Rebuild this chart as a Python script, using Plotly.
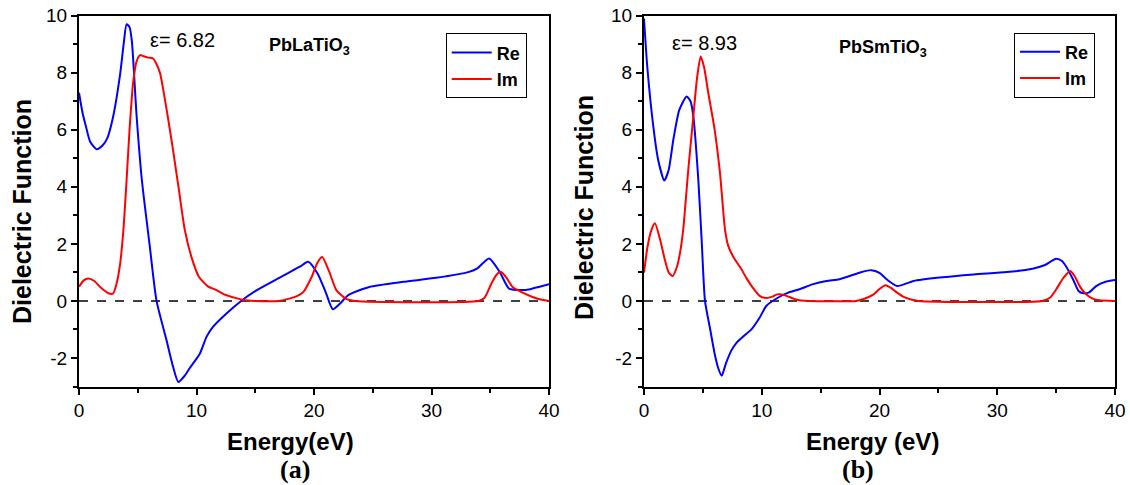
import plotly.graph_objects as go

# ---------------- data ----------------
# Panel (a): PbLaTiO3
a_re_x = [0, 0.3, 0.6, 0.95, 1.5, 2.0, 2.4, 2.9, 3.5, 3.8, 4.05, 4.3, 4.5, 4.9, 5.35, 6.0, 6.6,
          7.45, 8.0, 8.45, 9.0, 9.43, 10.28, 10.85, 11.4, 12.55, 13.8, 15.1, 17.0, 18.8, 19.5,
          20.3, 21.0, 21.6, 22.2, 22.9, 24.7, 27.6, 30.4, 33.2, 33.9, 34.9, 35.8, 36.6, 37.5,
          38.3, 39.2, 40]
a_re_y = [7.3, 6.6, 6.1, 5.58, 5.32, 5.45, 5.7, 6.45, 7.95, 9.0, 9.7, 9.6, 9.1, 6.5, 4.24, 2.0, 0,
          -1.38, -2.3, -2.84, -2.62, -2.35, -1.85, -1.26, -0.91, -0.44, 0, 0.37, 0.8, 1.2, 1.37,
          0.96, 0.3, -0.29, -0.1, 0.2, 0.49, 0.67, 0.81, 1.02, 1.14, 1.49, 1.02, 0.43, 0.38,
          0.4, 0.5, 0.59]

a_im_x = [0, 0.4, 0.8, 1.3, 1.9, 2.5, 2.9, 3.2, 3.5, 3.8, 4.05, 4.3, 4.6, 4.9, 5.2, 5.5, 5.9,
          6.3, 6.6, 6.9, 7.5, 8.0, 8.5, 9.0, 9.6, 10.2, 11.0, 11.7, 12.4, 13.1, 14.0, 15.0, 17.0,
          17.9, 18.6, 19.1, 19.8, 20.3, 20.7, 21.3, 21.9, 22.7, 23.5, 34.0, 34.5, 35.1, 35.5,
          35.9, 36.4, 36.9, 37.8, 38.6, 39.3, 40]
a_im_y = [0.5, 0.72, 0.79, 0.7, 0.45, 0.27, 0.26, 0.61, 1.3, 2.6, 4.24, 6.0, 7.63, 8.4, 8.62,
          8.58, 8.53, 8.5, 8.3, 7.98, 6.6, 5.3, 3.9, 2.5, 1.5, 0.85, 0.5, 0.38, 0.22, 0.13, 0.03,
          0, 0, 0.08, 0.18, 0.32, 0.84, 1.35, 1.54, 1.02, 0.38, 0.08, 0, 0, 0.1, 0.61, 0.9,
          1.02, 0.8, 0.49, 0.28, 0.14, 0.05, 0]

# Panel (b): PbSmTiO3
b_re_x = [0, 0.28, 0.79, 1.2, 1.72, 2.1, 2.49, 3.0, 3.62, 3.95, 4.19, 4.61, 4.9, 5.18, 5.6,
          6.0, 6.3, 6.6, 6.95, 7.4, 7.87, 8.5, 9.14, 9.8, 10.4, 11.4, 12.3, 13.2, 14.3, 15.5,
          16.6, 18.3, 19.3, 20.0, 20.6, 21.5, 22.9, 25.1, 28.0, 30.8, 33.0, 34.0, 35.0, 35.5,
          35.9, 36.5, 36.9, 37.3, 37.8, 38.4, 39.2, 40]
b_re_y = [9.9, 8.2, 6.12, 4.95, 4.22, 4.6, 5.65, 6.7, 7.17, 7.0, 6.47, 4.26, 2.1, 0, -0.95,
          -1.85, -2.35, -2.62, -2.2, -1.75, -1.46, -1.22, -0.99, -0.6, -0.17, 0.12, 0.3, 0.41,
          0.58, 0.7, 0.76, 0.99, 1.08, 0.98, 0.76, 0.52, 0.7, 0.82, 0.93, 1.01, 1.13, 1.25,
          1.48, 1.4, 1.17, 0.7, 0.35, 0.27, 0.3, 0.52, 0.67, 0.73]

b_im_x = [0, 0.3, 0.6, 0.93, 1.36, 1.8, 2.1, 2.43, 2.8, 3.06, 3.33, 3.76, 4.19, 4.5, 4.81, 5.1,
          5.46, 6.0, 6.45, 6.88, 7.16, 7.58, 8.29, 8.7, 9.14, 9.85, 10.4, 10.9, 11.3, 11.7,
          12.2, 12.7, 13.2, 14.0, 18.0, 18.6, 19.5, 20.0, 20.5, 21.0, 21.5, 22.0, 22.6, 23.3,
          33.8, 34.5, 35.0, 35.6, 36.2, 36.6, 37.0, 37.5, 38.1, 38.7, 40]
b_im_y = [0.99, 1.9, 2.45, 2.72, 2.16, 1.4, 1.0, 0.87, 1.2, 1.69, 2.5, 4.6, 6.47, 7.8, 8.57,
          8.2, 7.29, 6.0, 4.5, 2.5, 1.92, 1.55, 1.1, 0.8, 0.52, 0.17, 0.1, 0.15, 0.23, 0.23,
          0.16, 0.08, 0.02, 0, 0, 0.06, 0.23, 0.42, 0.55, 0.45, 0.29, 0.15, 0.06, 0, 0, 0.12,
          0.4, 0.8, 1.05, 0.85, 0.52, 0.25, 0.08, 0.02, 0]

series_names = ["Re", "Im"]
eps_labels = ["\u03b5= 6.82", "\u03b5= 8.93"]
compounds = ["PbLaTiO<sub>3</sub>", "PbSmTiO<sub>3</sub>"]
x_titles = ["Energy(eV)", "Energy (eV)"]
captions = ["(a)", "(b)"]
y_title = "Dielectric Function"
x_tickvals = [0, 10, 20, 30, 40]
y_tickvals = [-2, 0, 2, 4, 6, 8, 10]
y_ticktext = ["-2", "0", "2", "4", "6", "8", "10"]

# ---------------- figure ----------------
W, H = 1130, 485
SANS = "Liberation Sans, Arial, sans-serif"
SERIF = "Liberation Serif, Times New Roman, serif"
BLUE, RED = "#0000FF", "#FF0000"

def px(x):
    return x / W

def py(y):
    return 1 - y / H

fig = go.Figure()
line_kw = dict(shape="spline", smoothing=0.6, width=2)

fig.add_trace(go.Scatter(x=a_re_x, y=a_re_y, name=series_names[0], mode="lines",
                         line=dict(color=BLUE, **line_kw), xaxis="x", yaxis="y", legend="legend"))
fig.add_trace(go.Scatter(x=a_im_x, y=a_im_y, name=series_names[1], mode="lines",
                         line=dict(color=RED, **line_kw), xaxis="x", yaxis="y", legend="legend"))
fig.add_trace(go.Scatter(x=b_re_x, y=b_re_y, name=series_names[0], mode="lines",
                         line=dict(color=BLUE, **line_kw), xaxis="x2", yaxis="y2", legend="legend2"))
fig.add_trace(go.Scatter(x=b_im_x, y=b_im_y, name=series_names[1], mode="lines",
                         line=dict(color=RED, **line_kw), xaxis="x2", yaxis="y2", legend="legend2"))

ydom = [py(386.5), py(15.7)]
xdom1 = [px(79), px(549)]
xdom2 = [px(644), px(1115)]

def xaxis(dom, anchor):
    return dict(domain=dom, anchor=anchor, range=[0, 40], tickvals=x_tickvals,
                ticks="outside", ticklen=6, tickwidth=2, tickcolor="black",
                showline=True, linecolor="black", linewidth=2, mirror=True,
                showgrid=False, zeroline=False, automargin=False,
                tickfont=dict(family=SANS, size=19, color="black"),
                minor=dict(dtick=5, tick0=0, ticks="outside", ticklen=4, tickwidth=2,
                           tickcolor="black", showgrid=False))

def yaxis(anchor):
    return dict(domain=ydom, anchor=anchor, range=[-3, 10], tickvals=y_tickvals,
                ticktext=y_ticktext,
                ticks="outside", ticklen=6, tickwidth=2, tickcolor="black",
                showline=True, linecolor="black", linewidth=2, mirror=True,
                showgrid=False, zeroline=False, automargin=False,
                tickfont=dict(family=SANS, size=19, color="black"),
                minor=dict(dtick=1, tick0=0, ticks="outside", ticklen=4, tickwidth=2,
                           tickcolor="black", showgrid=False))

legend_common = dict(xanchor="left", yanchor="top", bgcolor="white",
                     bordercolor="black", borderwidth=1,
                     font=dict(family=SANS, size=18, color="black", weight="bold"),
                     tracegroupgap=0, itemwidth=40)

fig.update_layout(
    width=W, height=H,
    margin=dict(l=0, r=0, t=0, b=0, autoexpand=False),
    paper_bgcolor="white", plot_bgcolor="white",
    xaxis=xaxis(xdom1, "y"),
    yaxis=yaxis("x"),
    xaxis2=xaxis(xdom2, "y2"),
    yaxis2=yaxis("x2"),
    legend=dict(x=px(445.7), y=py(33.3), **legend_common),
    legend2=dict(x=px(1014), y=py(32.5), **legend_common),
    showlegend=True,
)

# dashed zero lines
for xr, yr in (("x domain", "y"), ("x2 domain", "y2")):
    fig.add_shape(type="line", xref=xr, yref=yr, x0=0, x1=1, y0=0, y1=0,
                  line=dict(color="#404040", width=2, dash="dash"), layer="below")

ann = []
ann.append(dict(x=px(147.7), y=py(39.5), text=eps_labels[0], xanchor="left", yanchor="middle",
                font=dict(family=SANS, size=20, color="black")))
ann.append(dict(x=px(670), y=py(43), text=eps_labels[1], xanchor="left", yanchor="middle",
                font=dict(family=SANS, size=20, color="black")))
ann.append(dict(x=px(266.7), y=py(47), text="<b>" + compounds[0] + "</b>", xanchor="left",
                yanchor="middle", font=dict(family=SANS, size=18, color="black")))
ann.append(dict(x=px(836.7), y=py(49), text="<b>" + compounds[1] + "</b>", xanchor="left",
                yanchor="middle", font=dict(family=SANS, size=18, color="black")))
ann.append(dict(x=px(290), y=py(441), text="<b>" + x_titles[0] + "</b>", xanchor="center",
                yanchor="middle", font=dict(family=SANS, size=24, color="black")))
ann.append(dict(x=px(872.5), y=py(441), text="<b>" + x_titles[1] + "</b>", xanchor="center",
                yanchor="middle", font=dict(family=SANS, size=24, color="black")))
ann.append(dict(x=px(295), y=py(469), text="<b>" + captions[0] + "</b>", xanchor="center",
                yanchor="middle", font=dict(family=SERIF, size=26, color="black")))
ann.append(dict(x=px(858), y=py(469), text="<b>" + captions[1] + "</b>", xanchor="center",
                yanchor="middle", font=dict(family=SERIF, size=26, color="black")))
ann.append(dict(x=px(22), y=py(212), text="<b>" + y_title + "</b>", textangle=-90,
                xanchor="center", yanchor="middle", font=dict(family=SANS, size=25, color="black")))
ann.append(dict(x=px(584), y=py(208), text="<b>" + y_title + "</b>", textangle=-90,
                xanchor="center", yanchor="middle", font=dict(family=SANS, size=25, color="black")))

for a in ann:
    a.update(xref="paper", yref="paper", showarrow=False)
fig.update_layout(annotations=ann)

fig.write_html(
    "out.html",
    config={"displayModeBar": False},
    post_script="document.body.style.margin='0';document.body.style.overflow='hidden';",
)
